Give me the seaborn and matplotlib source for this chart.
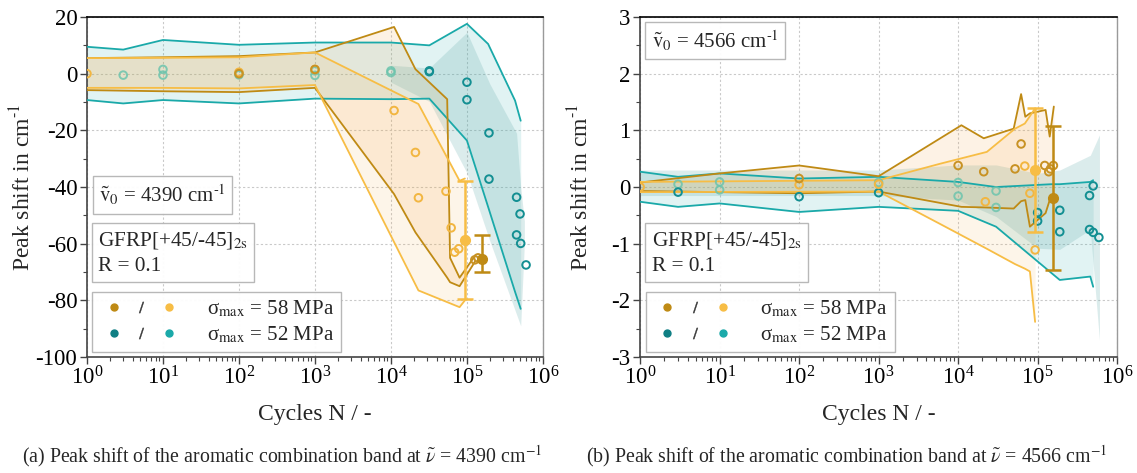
import numpy as np
import pandas as pd
import matplotlib
matplotlib.use("Agg")
import matplotlib.pyplot as plt
import seaborn as sns
from matplotlib.lines import Line2D
from matplotlib.legend_handler import HandlerTuple
from matplotlib.ticker import MultipleLocator, LogLocator, NullFormatter

# ---------------- colours ----------------
C_DO = "#bf8a14"   # dark orange (58 MPa, specimen 1)
C_LO = "#f7bd45"   # light orange (58 MPa, specimen 2)
C_DT = "#0f7f84"   # dark teal (52 MPa, specimen 1)
C_LT = "#1aa9a9"   # teal (52 MPa, specimen 2)
C_MINT = "#6cc4ad"

# ================= panel (a): 4390 cm-1 =================
a_teal_x = [1, 3, 10, 100, 1e3, 1e4, 3.2e4, 1e5, 1.9e5, 4.3e5, 5.1e5]
a_teal_hi = [9.5, 8.5, 11.9, 10.2, 11.0, 11.0, 10.0, 17.6, 10.5, -9.5, -16.6]
a_teal_lo = [-9.3, -10.5, -9.3, -10.5, -8.8, -9.0, -8.8, -23.6, -47, -77, -83]

a_dt_x = [1e4, 3.2e4, 1e5, 2e5, 4.5e5, 5.1e5, 5.7e5]
a_dt_hi = [3, 2, 14.6, -3.6, -21, -40, -52]
a_dt_lo = [-3, -9.8, -35, -59, -85, -89, -60]

a_do_x = [1, 10, 100, 1e3, 1.1e4, 2.1e4, 5.5e4, 6e4, 8e4, 1.3e5]
a_do_hi = [5.5, 5.8, 6.2, 7.5, 16.5, 1.6, -9, -65, -72, -64]
a_do_lo = [-5.8, -6.2, -6.5, -5, -42.5, -56, -72, -73.6, -75, -66]

a_lo_x = [1, 10, 100, 1e3, 2.3e4, 8e4, 9.4e4]
a_lo_hi = [5.5, 5.6, 5.8, 7.5, -10.7, -37.8, -37]
a_lo_lo = [-5, -5, -5.2, -4, -76.5, -82.4, -80]

a_mint_x = [3, 10, 10, 100, 100, 1e3, 1e3, 1e4, 1e4]
a_mint_y = [-0.5, 1.5, -0.5, 0.0, -0.4, 1.0, -0.6, 0.4, 1.0]
a_dtc_x = [3.2e4, 3.2e4, 1e5, 1e5, 1.95e5, 1.95e5, 4.5e5, 5e5, 4.5e5, 5.1e5, 6e5]
a_dtc_y = [0.7, 1.0, -3, -9.2, -20.9, -37.2, -43.6, -49.5, -56.9, -59.9, -67.5]
a_loc_x = [1, 100, 1e3, 1.1e4, 2.1e4, 2.3e4, 5.3e4, 6.2e4, 6.9e4, 7.8e4]
a_loc_y = [0, 0.5, 1.5, -13, -27.8, -43.8, -41.5, -54.4, -63, -61.8]
a_doc_x = [100, 1e3, 1.27e5, 1.4e5]
a_doc_y = [0.0, 1.5, -65.7, -65]

a_err_x = [9.4e4, 1.6e5]
a_err_mean = [-58.6, -65.3]
a_err_top = [-37.7, -57.1]
a_err_bot = [-79.4, -70.0]

# ================= panel (b): 4566 cm-1 =================
b_teal_x = [1, 3, 10, 100, 1e3, 1e4, 3e4, 1.5e5, 1.9e5, 4.6e5, 5e5]
b_teal_hi = [0.27, 0.18, 0.24, 0.15, 0.18, 0.09, 0.0, 0.05, 0.05, 0.09, 0.12]
b_teal_lo = [-0.26, -0.35, -0.29, -0.44, -0.35, -0.42, -0.7, -1.52, -1.64, -1.58, -1.76]

b_dt_x = [1, 1e3, 1e4, 3e4, 1e5, 1.9e5, 4.6e5, 6e5]
b_dt_hi = [0.3, 0.3, 0.39, 0.39, 0.24, 0.3, 0.56, 0.92]
b_dt_lo = [-0.15, -0.15, -0.23, -0.52, -1.08, -1.1, -0.75, -2.7]

b_do_x = [1, 10, 100, 1e3, 1.1e4, 2.1e4, 5e4, 6.2e4, 7e4, 8e4, 1.26e5, 1.42e5, 1.6e5]
b_do_hi = [0.08, 0.24, 0.38, 0.19, 1.09, 0.86, 1.03, 1.64, 1.24, 1.3, 1.36, 0.89, 1.42]
b_do_lo = [-0.07, -0.09, -0.11, -0.08, -0.35, -0.36, -0.38, -0.25, -0.23, -0.7, -0.46, -0.23, -0.23]

b_lo_x = [1, 1e3, 5.9e3, 2.3e4, 5.2e4, 6.9e4, 8e4, 9.3e4]
b_lo_hi = [0.09, 0.12, 0.41, 0.62, 1.03, 1.12, 1.25, 1.39]
b_lo_lo = [-0.09, -0.08, -0.65, -1.09, -1.36, -1.44, -1.49, -2.38]

b_mint_x = [3, 10, 10, 1e3, 1e4, 1e4, 3e4, 3e4]
b_mint_y = [0.05, 0.09, -0.05, 0.08, 0.08, -0.16, -0.07, -0.36]
b_dtc_x = [3, 100, 1e3, 1e5, 1e5, 1.9e5, 1.9e5, 4.5e5, 5e5, 4.5e5, 5e5, 5.9e5]
b_dtc_y = [-0.09, -0.17, -0.1, -0.45, -0.6, -0.41, -0.79, -0.15, 0.02, -0.75, -0.8, -0.89]
b_loc_x = [1, 100, 1e3, 2.2e4, 6.9e4, 8e4, 9.3e4]
b_loc_y = [0.0, 0.04, 0.05, -0.26, 0.37, -0.11, -1.11]
b_doc_x = [100, 1e4, 2.1e4, 5.2e4, 6.2e4, 1.23e5, 1.38e5, 1.45e5, 1.58e5]
b_doc_y = [0.15, 0.38, 0.27, 0.32, 0.76, 0.38, 0.27, 0.32, 0.38]

b_err_x = [9.3e4, 1.58e5]
b_err_mean = [0.3, -0.19]
b_err_top = [1.39, 1.08]
b_err_bot = [-0.79, -1.46]

legend_labels = ["σ$_{\\mathrm{max}}$ = 58 MPa", "σ$_{\\mathrm{max}}$ = 52 MPa"]
xlabel = "Cycles N / -"
ylabel = "Peak shift in cm$^{\\mathrm{\\text{-}1}}$"
captions = ["(a) Peak shift of the aromatic combination band at $\\tilde{\\nu}$ = 4390 cm$^{-1}$",
            "(b) Peak shift of the aromatic combination band at $\\tilde{\\nu}$ = 4566 cm$^{-1}$"]
nu_labels = ["$\\mathrm{\\tilde{v}_0}$ = 4390 cm$^{\\text{-}1}$",
             "$\\mathrm{\\tilde{v}_0}$ = 4566 cm$^{\\text{-}1}$"]
spec_label = "GFRP[+45/-45]$_{\\mathrm{2s}}$\nR = 0.1"

# ---------------- style ----------------
sns.set_theme(style="white")
plt.rcParams["font.family"] = ["Liberation Serif", "DejaVu Serif"]
plt.rcParams["mathtext.fontset"] = "stix"
plt.rcParams["axes.unicode_minus"] = False

fig = plt.figure(figsize=(11.37, 4.73), dpi=100)
ax1 = fig.add_axes([0.0765, 0.2452, 0.401, 0.7188])
ax2 = fig.add_axes([0.563, 0.2452, 0.4195, 0.7188])


def band(ax, x, hi, lo, fill, alpha, line=None, lw=1.3):
    ax.fill_between(x, lo, hi, color=fill, alpha=alpha, lw=0, zorder=2)
    if line is not None:
        sns.lineplot(x=x, y=hi, ax=ax, color=line, lw=lw, estimator=None, zorder=3)
        sns.lineplot(x=x, y=lo, ax=ax, color=line, lw=lw, estimator=None, zorder=3)


def circles(ax, x, y, color, alpha=1.0):
    sns.scatterplot(x=x, y=y, ax=ax, marker="o", s=30, facecolors="none",
                    edgecolor=color, linewidth=1.4, alpha=alpha, zorder=5)


def draw(ax, d):
    ax.set_xscale("log")
    band(ax, d["teal_x"], d["teal_hi"], d["teal_lo"], C_LT, 0.13, C_LT)
    band(ax, d["dt_x"], d["dt_hi"], d["dt_lo"], "#5fa9a9", 0.22)
    band(ax, d["do_x"], d["do_hi"], d["do_lo"], "#f3a54a", 0.14, C_DO)
    band(ax, d["lo_x"], d["lo_hi"], d["lo_lo"], "#f6b04a", 0.12, C_LO)
    circles(ax, d["mint_x"], d["mint_y"], C_MINT, 0.85)
    circles(ax, d["dtc_x"], d["dtc_y"], "#138f92")
    circles(ax, d["loc_x"], d["loc_y"], "#f2b641")
    circles(ax, d["doc_x"], d["doc_y"], "#c89224")
    ex = d["err_x"]
    m = np.array(d["err_mean"])
    t = np.array(d["err_top"])
    b = np.array(d["err_bot"])
    for i, c in enumerate([C_LO, C_DO]):
        ax.errorbar([ex[i]], [m[i]], yerr=[[m[i] - b[i]], [t[i] - m[i]]], fmt="o",
                    color=c, ms=7, elinewidth=1.8, capsize=6, capthick=1.8, zorder=6)


panel_a = dict(teal_x=a_teal_x, teal_hi=a_teal_hi, teal_lo=a_teal_lo,
               dt_x=a_dt_x, dt_hi=a_dt_hi, dt_lo=a_dt_lo,
               do_x=a_do_x, do_hi=a_do_hi, do_lo=a_do_lo,
               lo_x=a_lo_x, lo_hi=a_lo_hi, lo_lo=a_lo_lo,
               mint_x=a_mint_x, mint_y=a_mint_y, dtc_x=a_dtc_x, dtc_y=a_dtc_y,
               loc_x=a_loc_x, loc_y=a_loc_y, doc_x=a_doc_x, doc_y=a_doc_y,
               err_x=a_err_x, err_mean=a_err_mean, err_top=a_err_top, err_bot=a_err_bot)
panel_b = dict(teal_x=b_teal_x, teal_hi=b_teal_hi, teal_lo=b_teal_lo,
               dt_x=b_dt_x, dt_hi=b_dt_hi, dt_lo=b_dt_lo,
               do_x=b_do_x, do_hi=b_do_hi, do_lo=b_do_lo,
               lo_x=b_lo_x, lo_hi=b_lo_hi, lo_lo=b_lo_lo,
               mint_x=b_mint_x, mint_y=b_mint_y, dtc_x=b_dtc_x, dtc_y=b_dtc_y,
               loc_x=b_loc_x, loc_y=b_loc_y, doc_x=b_doc_x, doc_y=b_doc_y,
               err_x=b_err_x, err_mean=b_err_mean, err_top=b_err_top, err_bot=b_err_bot)

draw(ax1, panel_a)
draw(ax2, panel_b)

FS = 15
box = dict(boxstyle="square,pad=0.3", fc="white", ec="#b4b4b4", lw=1.0, alpha=0.95)

for ax, ylim, maj, mnr, nu_pos, cap_x, nu_lab, ylx in [
        (ax1, (-100, 20), 20, 10, (0.026, 0.44), 0.248, nu_labels[0], -0.114),
        (ax2, (-3, 3), 1, 0.5, (0.024, 0.895), 0.745, nu_labels[1], -0.099)]:
    ax.set_xlim(1, 1e6)
    ax.set_ylim(*ylim)
    ax.yaxis.set_major_locator(MultipleLocator(maj))
    ax.yaxis.set_minor_locator(MultipleLocator(mnr))
    ax.xaxis.set_major_locator(LogLocator(base=10, numticks=10))
    ax.xaxis.set_minor_locator(LogLocator(base=10, subs=np.arange(2, 10), numticks=100))
    ax.xaxis.set_minor_formatter(NullFormatter())
    ax.grid(True, which="major", ls=(0, (2, 2)), color="#c9c9c9", lw=0.8, zorder=0)
    ax.set_axisbelow(True)
    ax.tick_params(axis="both", which="major", direction="out", length=5, width=1,
                   labelsize=16.5, color="#444444", labelcolor="black", pad=2,
                   bottom=True, left=True)
    ax.tick_params(axis="both", which="minor", direction="out", length=3, width=0.8,
                   color="#444444", bottom=True, left=True)
    for s in ["left", "bottom"]:
        ax.spines[s].set_color("#444444")
        ax.spines[s].set_linewidth(1.2)
    ax.spines["top"].set_color("black")
    ax.spines["top"].set_linewidth(1.2)
    ax.spines["right"].set_color("#9a9a9a")
    ax.spines["right"].set_linewidth(1.0)
    ax.set_xlabel(xlabel, fontsize=17, labelpad=10)
    ax.set_ylabel(ylabel, fontsize=17)
    ax.yaxis.set_label_coords(ylx, 0.5)

    ax.text(nu_pos[0], nu_pos[1], nu_lab, transform=ax.transAxes, fontsize=FS,
            ha="left", va="bottom", bbox=box, zorder=10)
    ax.text(0.024, 0.238, spec_label, transform=ax.transAxes, fontsize=15.3,
            ha="left", va="bottom", linespacing=1.45, bbox=box, zorder=10)

    handles = [(Line2D([], [], marker="o", ls="", color=C_DO, ms=5),
                Line2D([], [], marker="$/$", ls="", color="#333333", ms=8, mew=0.3),
                Line2D([], [], marker="o", ls="", color=C_LO, ms=5)),
               (Line2D([], [], marker="o", ls="", color=C_DT, ms=5),
                Line2D([], [], marker="$/$", ls="", color="#333333", ms=8, mew=0.3),
                Line2D([], [], marker="o", ls="", color=C_LT, ms=5))]
    leg = ax.legend(handles, legend_labels, handler_map={tuple: HandlerTuple(ndivide=None, pad=0.0)},
                    loc="lower left", bbox_to_anchor=(0.012, 0.014), borderaxespad=0,
                    fontsize=15, handlelength=4.0, handletextpad=1.15, labelspacing=0.22,
                    frameon=True, fancybox=False, edgecolor="#b4b4b4", framealpha=0.95,
                    borderpad=0.35)
    leg.get_frame().set_linewidth(1.0)
    leg.set_zorder(10)

    fig.text(cap_x, 0.036, captions[0] if ax is ax1 else captions[1], ha="center",
             va="center", fontsize=14.3)

fig.savefig("out.png", dpi=100)
